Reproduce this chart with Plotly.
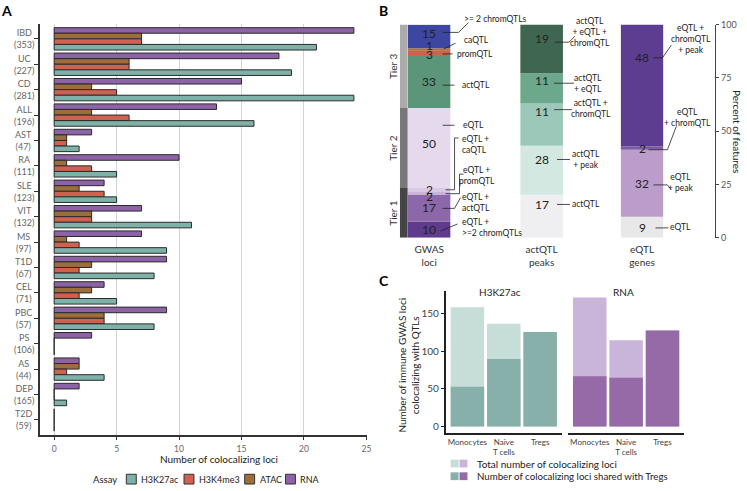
import numpy as np
import plotly.graph_objects as go

W, H = 747, 491
FONT = 'Lato, Open Sans, sans-serif'

# ---- panel A: colocalizing loci per disease (counts)
diseases = ['IBD', 'UC', 'CD', 'ALL', 'AST', 'RA', 'SLE', 'VIT', 'MS', 'T1D', 'CEL', 'PBC', 'PS', 'AS', 'DEP', 'T2D']
n_loci = [353, 227, 281, 196, 47, 111, 123, 132, 97, 67, 71, 57, 106, 44, 165, 59]
h3k27ac = [21, 19, 24, 16, 2, 5, 5, 11, 9, 8, 5, 8, 0, 4, 1, 0]
h3k4me3 = [7, 6, 5, 6, 1, 3, 4, 3, 2, 2, 2, 4, 0, 1, 0, 0]
atac = [7, 6, 3, 3, 1, 1, 2, 3, 1, 3, 3, 4, 0, 2, 0, 0]
rna = [24, 18, 15, 13, 3, 10, 4, 7, 7, 9, 4, 9, 3, 2, 2, 0]

# ---- panel B: stacked bars (bottom -> top), heights in percent, labels are counts
gwas_names = ['eQTL +<br>&gt;=2 chromQTLs', 'eQTL +<br>actQTL', 'eQTL +<br>promQTL', 'eQTL +<br>caQTL',
              'eQTL', 'actQTL', 'promQTL', 'caQTL', '&gt;= 2 chromQTLs']
gwas_counts = [10, 17, 2, 2, 50, 33, 3, 1, 15]
gwas_pct = [7.6, 12.7, 1.5, 1.5, 37.6, 24.8, 2.3, 0.9, 11.0]
act_names = ['actQTL', 'actQTL<br>+ peak', 'actQTL +<br>chromQTL', 'actQTL<br>+ eQTL', 'actQTL<br>+ eQTL +<br>chromQTL']
act_counts = [17, 28, 11, 11, 19]
act_pct = [20.2, 22.9, 19.9, 14.1, 22.9]
eqtl_names = ['eQTL', 'eQTL<br>+ peak', 'eQTL<br>+ chromQTL', 'eQTL +<br>chromQTL<br>+ peak']
eqtl_counts = [9, 32, 2, 48]
eqtl_pct = [9.8, 31.5, 1.5, 57.2]
tiers = ['Tier 1', 'Tier 2', 'Tier 3']
tier_pct = [23.3, 37.6, 39.1]

# ---- panel C: GWAS loci colocalizing with QTLs
cell_types = ['Monocytes', 'Naive<br>T cells', 'Tregs']
h3_total = [159, 137, 126]
h3_shared = [53, 90, 126]
rna_total = [172, 115, 128]
rna_shared = [67, 65, 128]

C_RNA, C_ATAC, C_K4, C_K27 = '#8e62a6', '#9b6e3e', '#d0604f', '#7eb2a8'
gwas_colors = ['#5f3a8d', '#8c67aa', '#cbb4da', '#dcc9e4', '#e5d9ed', '#5b967a', '#d35f4d', '#b0753e', '#3d47a1']
act_colors = ['#efeff2', '#d3e8e0', '#9cc8ba', '#6ca88c', '#3f6650']
eqtl_colors = ['#e8e8e8', '#bc9ccb', '#7e5ca4', '#5c3d8f']
tier_colors = ['#454545', '#787878', '#ababab']


def px(x, y):
    return x / W, 1 - y / H


fig = go.Figure()
ann = []
shapes = []

# A
ycats = [f'{d}<br>({n})' for d, n in zip(diseases, n_loci)]
for name, vals, col, off in [('RNA', rna, C_RNA, -0.44), ('ATAC', atac, C_ATAC, -0.22),
                             ('H3K4me3', h3k4me3, C_K4, 0.0), ('H3K27ac', h3k27ac, C_K27, 0.22)]:
    fig.add_trace(go.Bar(x=vals, y=ycats, orientation='h', name=name, offset=off, width=0.22,
                         marker=dict(color=col, line=dict(color='#2b2b2b', width=1)),
                         xaxis='x', yaxis='y', showlegend=False))
# centred category labels
for c in ycats:
    ann.append(dict(text=c, x=24 / W, xref='paper', xanchor='center', y=c, yref='y', showarrow=False,
                    align='center', font=dict(size=9, color='#666', family=FONT)))


# B
def stacked(cat, pct, counts, colors, xa, shifts=None):
    pct = np.array(pct)
    base = np.cumsum(pct) - pct
    if counts:
        for c, m, s in zip(counts, base + pct / 2, shifts):
            ann.append(dict(text=str(c), x=cat, xref=xa, y=m, yref='y2', yshift=s, showarrow=False,
                            font=dict(size=12, color='#222', family=FONT)))
    return go.Bar(x=[cat] * len(pct), y=pct, base=base, width=1,
                  marker=dict(color=colors, line=dict(width=0)),
                  xaxis=xa, yaxis='y2', showlegend=False, hoverinfo='skip')


fig.add_trace(stacked('tier', tier_pct, None, tier_colors, 'x5'))
fig.add_trace(stacked('GWAS<br>loci', gwas_pct, gwas_counts, gwas_colors, 'x2', [0, 0, -4, 0, 4, 0, -2, 4, 3]))
fig.add_trace(stacked('actQTL<br>peaks', act_pct, act_counts, act_colors, 'x3', [12, 11, 13, 8, 10]))
fig.add_trace(stacked('eQTL<br>genes', eqtl_pct, eqtl_counts, eqtl_colors, 'x4', [0, 0, 0, 28]))

# C
for xa, tot, sh, light, dark in [('x6', h3_total, h3_shared, '#c7ddd8', '#87b0aa'),
                                 ('x7', rna_total, rna_shared, '#c9b5d9', '#956aa7')]:
    fig.add_trace(go.Bar(x=cell_types, y=tot, width=0.92, marker=dict(color=light, line=dict(width=0)),
                         xaxis=xa, yaxis='y3', showlegend=False))
    fig.add_trace(go.Bar(x=cell_types, y=sh, width=0.92, marker=dict(color=dark, line=dict(width=0)),
                         xaxis=xa, yaxis='y3', showlegend=False))


def text(t, x, y, size=10, anchor='center', color='#222', bold=False, angle=0):
    X, Y = px(x, y)
    ann.append(dict(text=f'<b>{t}</b>' if bold else t, x=X, y=Y, xref='paper', yref='paper',
                    xanchor=anchor, yanchor='middle', align=anchor,
                    showarrow=False, textangle=angle, font=dict(size=size, color=color, family=FONT)))


def line(pts):
    d = ''
    for i, (x, y) in enumerate(pts):
        X, Y = px(x, y)
        d += ('M' if i == 0 else 'L') + f'{X:.5f},{Y:.5f} '
    shapes.append(dict(type='path', path=d, xref='paper', yref='paper', line=dict(color='#222', width=0.8)))


def rect(x0, y0, x1, y1, col, lc=None):
    X0, Y0 = px(x0, y0)
    X1, Y1 = px(x1, y1)
    shapes.append(dict(type='rect', x0=X0, x1=X1, y0=Y1, y1=Y0, xref='paper', yref='paper',
                       fillcolor=col, line=dict(color=lc or col, width=1 if lc else 0)))


# panel letters
text('A', 7, 5, 14, bold=True, color='#000')
text('B', 386, 5, 14, bold=True, color='#000')
text('C', 386, 281, 14, bold=True, color='#000')

# A axis title + legend
text('Number of colocalizing loci', 220, 463, 10)
text('Assay', 120, 484, 9.5, 'right', '#222')
for xs, nm, col in [(127, 'H3K27ac', C_K27), (185, 'H3K4me3', C_K4), (246, 'ATAC', C_ATAC), (287, 'RNA', C_RNA)]:
    rect(xs, 479, xs + 10, 489, col, '#333')
    text(nm, xs + 13, 484, 9, 'left')

# B tier labels from data
tmid = np.cumsum(tier_pct) - np.array(tier_pct) / 2
for t, m in zip(tiers, tmid):
    ann.append(dict(text=t, x=395 / W, xref='paper', xanchor='center', y=m, yref='y2', textangle=-90,
                    showarrow=False, font=dict(size=10, color='#333', family=FONT)))
text('Percent of features', 741, 128, 10, angle=90)

# B callouts: label positions and leader lines
gwas_lab = [(462, 227, 'left'), (462, 201, 'left'), (480, 173, 'center'), (462, 142, 'left'),
            (463, 122, 'left'), (462, 81, 'left'), (457, 49, 'left'), (464, 35, 'left'), (464, 13, 'left')]
gwas_lines = [[(443, 230), (460, 223)], [(445, 207), (457, 207), (463, 196)],
              [(448, 192), (462, 192), (462, 172), (466, 172)], [(448, 188), (457, 188), (457, 135), (461, 135)],
              [(445, 122), (457, 122)], [(445, 81), (457, 81)], [(445, 49), (455, 49)],
              [(446, 44), (458, 38)], [(445, 27), (461, 27), (471, 17)]]
act_lab = [(589, 203), (589, 157), (594, 105), (591, 79), (593, 27)]
act_lines = [[(560, 203), (573, 203)], [(560, 157), (573, 157)], [(557, 106), (575, 106)],
             [(557, 79), (577, 79)], [(558, 37), (572, 37), (578, 31)]]
eqtl_lab = [(684, 226), (685, 181), (691, 114), (695, 34)]
eqtl_lines = [[(659, 227), (672, 227)], [(657, 183), (671, 183), (675, 188)],
              [(652, 147), (671, 147), (680, 123)], [(657, 53), (666, 53), (675, 40)]]

for nm, (x, y, a), ln in zip(gwas_names, gwas_lab, gwas_lines):
    text(nm, x, y, 8.5, a)
    line(ln)
for nm, (x, y), ln in zip(act_names, act_lab, act_lines):
    text(nm, x, y, 8.5)
    line(ln)
for nm, (x, y), ln in zip(eqtl_names, eqtl_lab, eqtl_lines):
    text(nm, x, y, 8.5)
    line(ln)

# C titles + legend
text('H3K27ac', 503, 293, 10)
text('RNA', 627, 293, 10)
text('Number of immune GWAS loci<br>colocalizing with QTLs', 411, 367, 10, angle=-90)
rect(453, 464, 461, 472, '#c7ddd8')
rect(462, 464, 470, 472, '#c9b5d9')
rect(453, 477, 461, 485, '#87b0aa')
rect(462, 477, 470, 485, '#956aa7')
text('Total number of colocalizing loci', 478, 468, 10, 'left')
text('Number of colocalizing loci shared with Tregs', 478, 481, 9.7, 'left')

hidden = dict(showgrid=False, zeroline=False, showline=False, ticks='', range=[-0.5, 0.5], anchor='y2')
tickf = dict(size=9, color='#555', family=FONT)

fig.update_layout(
    width=W, height=H, margin=dict(l=0, r=0, t=0, b=0),
    plot_bgcolor='white', paper_bgcolor='white', barmode='overlay',
    font=dict(family=FONT, color='#222'),
    xaxis=dict(domain=[40 / W, 369 / W], range=[-1.15, 25.05], tickvals=[0, 5, 10, 15, 20, 25],
               showgrid=True, gridcolor='#d4d4d4', gridwidth=1, zeroline=False,
               showline=True, linecolor='#333', linewidth=1.5, ticks='outside', ticklen=3, tickcolor='#333',
               tickfont=dict(size=8.5, color='#666', family=FONT), ticklabelstandoff=2),
    yaxis=dict(domain=[1 - 439 / H, 1 - 18 / H], range=[15.6, -0.6], type='category',
               showgrid=False, zeroline=False, showline=True, linecolor='#333', linewidth=1.5,
               ticks='outside', ticklen=4, tickcolor='#333', showticklabels=False),
    xaxis2=dict(domain=[410 / W, 453 / W], tickfont=dict(size=10, color='#333', family=FONT),
                ticklabelstandoff=4, **hidden),
    xaxis3=dict(domain=[523 / W, 566 / W], tickfont=dict(size=10, color='#333', family=FONT),
                ticklabelstandoff=4, **hidden),
    xaxis4=dict(domain=[624 / W, 667 / W], tickfont=dict(size=10, color='#333', family=FONT),
                ticklabelstandoff=4, **hidden),
    xaxis5=dict(domain=[402 / W, 410 / W], showticklabels=False, **hidden),
    yaxis2=dict(domain=[1 - 237 / H, 1 - 19 / H], range=[0, 100], anchor='free', position=719 / W, side='right',
                showgrid=False, zeroline=False, showline=True, linecolor='#444', linewidth=1,
                ticks='outside', ticklen=3, tickcolor='#444', tickvals=[0, 25, 50, 75, 100], tickfont=tickf),
    xaxis6=dict(domain=[448 / W, 565 / W], anchor='y3', range=[-0.6, 2.6], showgrid=False, zeroline=False,
                showline=True, linecolor='#222', linewidth=1.5, ticks='',
                tickfont=dict(size=8, color='#444', family=FONT)),
    xaxis7=dict(domain=[571 / W, 688 / W], anchor='y3', range=[-0.6, 2.6], showgrid=False, zeroline=False,
                showline=True, linecolor='#222', linewidth=1.5, ticks='',
                tickfont=dict(size=8, color='#444', family=FONT)),
    yaxis3=dict(domain=[1 - 437 / H, 1 - 292 / H], range=[-9, 180], anchor='x6', showgrid=False, zeroline=False,
                showline=True, linecolor='#222', linewidth=1.5, ticks='outside', ticklen=3, tickcolor='#222',
                tickvals=[0, 50, 100, 150], tickfont=dict(size=10, color='#444', family=FONT)),
    annotations=ann, shapes=shapes,
)

# the page's default body margin would push the figure 8px right and down
fig.write_html('out.html', config={'displayModeBar': False},
               post_script="document.body.style.margin='0';")
